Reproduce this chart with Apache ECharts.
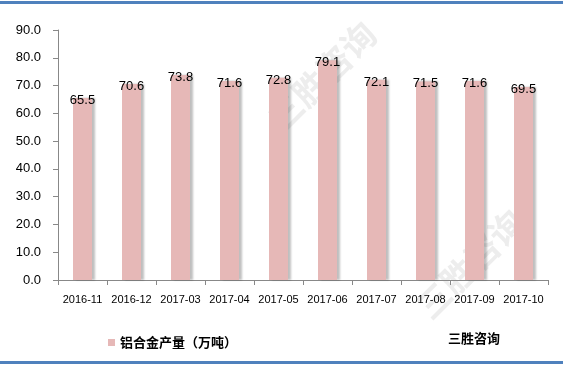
<!DOCTYPE html>
<html><head><meta charset="utf-8">
<script src="https://cdn.jsdelivr.net/npm/echarts@6/dist/echarts.min.js"></script>
<style>html,body{margin:0;padding:0;background:#fff}#c{width:563px;height:367px}</style>
</head><body><div id="c"></div>
<script>
const categories = ['2016-11','2016-12','2017-03','2017-04','2017-05','2017-06','2017-07','2017-08','2017-09','2017-10'];
const values = [65.5,70.6,73.8,71.6,72.8,79.1,72.1,71.5,71.6,69.5];
const seriesName = '铝合金产量（万吨）';
const sourceText = '三胜咨询';
const chart = echarts.init(document.getElementById('c'));
const font = '"Microsoft YaHei","Noto Sans CJK SC",sans-serif';
const num = '"Liberation Sans",Arial,sans-serif';
chart.setOption({
  animation:false,
  grid:{left:58,right:15,top:30,bottom:87},
  graphic:[
    {type:'rect',shape:{x:0,y:1,width:563,height:3},style:{fill:'#4f81bd'}},
    {type:'rect',shape:{x:0,y:361,width:563,height:3},style:{fill:'#4f81bd'}},
    {type:'text',left:448,top:332,style:{text:sourceText,font:'bold 13px '+font,fill:'#000'}},
    {type:'text',x:262,y:112,rotation:Math.PI/4,style:{text:'三胜咨询',font:'bold 34px '+font,fill:'rgba(190,190,190,0.28)'}},
    {type:'text',x:410,y:300,rotation:Math.PI/4,style:{text:'三胜咨询',font:'bold 34px '+font,fill:'rgba(190,190,190,0.28)'}}
  ],
  legend:{left:103,top:331,itemWidth:7,itemHeight:7,itemGap:4,icon:'rect',
    textStyle:{fontSize:13,fontWeight:'bold',color:'#000',fontFamily:font},data:[seriesName]},
  xAxis:{type:'category',data:categories,
    axisLine:{lineStyle:{color:'#888'}},
    axisTick:{show:true,lineStyle:{color:'#888'}},
    axisLabel:{color:'#000',fontSize:11,fontFamily:num,margin:14,interval:0}},
  yAxis:{type:'value',min:0,max:90,interval:10,
    axisLine:{show:true,lineStyle:{color:'#888'}},
    axisTick:{show:true,lineStyle:{color:'#888'}},
    splitLine:{show:false},
    axisLabel:{color:'#000',fontSize:13,fontFamily:num,formatter:v=>v.toFixed(1),margin:17}},
  series:[{name:seriesName,type:'bar',data:values,barWidth:19,
    itemStyle:{color:'#e6b8b7',shadowColor:'rgba(0,0,0,0.25)',shadowOffsetX:3,shadowBlur:2},
    label:{show:true,position:'top',distance:-9,color:'#000',fontSize:13,fontFamily:num,formatter:p=>p.value.toFixed(1)}}]
});
</script></body></html>
